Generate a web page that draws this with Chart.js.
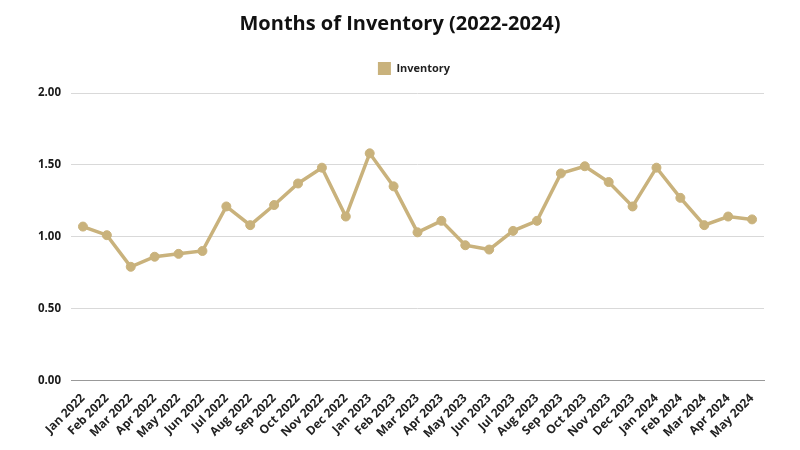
<!DOCTYPE html>
<html>
<head>
<meta charset="utf-8">
<script src="https://cdn.jsdelivr.net/npm/chart.js@4"></script>
<style>
  html, body { margin: 0; padding: 0; background: #fff; }
  .chart-box { width: 800px; height: 450px; }
</style>
</head>
<body>
<div class="chart-box"><canvas id="chart"></canvas></div>
<script>
// months on the x axis
var months = ["Jan 2022", "Feb 2022", "Mar 2022", "Apr 2022", "May 2022", "Jun 2022",
  "Jul 2022", "Aug 2022", "Sep 2022", "Oct 2022", "Nov 2022", "Dec 2022",
  "Jan 2023", "Feb 2023", "Mar 2023", "Apr 2023", "May 2023", "Jun 2023",
  "Jul 2023", "Aug 2023", "Sep 2023", "Oct 2023", "Nov 2023", "Dec 2023",
  "Jan 2024", "Feb 2024", "Mar 2024", "Apr 2024", "May 2024"];

// months of inventory
var inventory = [1.07, 1.01, 0.79, 0.86, 0.88, 0.90, 1.21, 1.08, 1.22, 1.37, 1.48, 1.14,
  1.58, 1.35, 1.03, 1.11, 0.94, 0.91, 1.04, 1.11, 1.44, 1.49, 1.38, 1.21,
  1.48, 1.27, 1.08, 1.14, 1.12];

var yTicks = [0, 0.5, 1, 1.5, 2];

var gold = "#c9b27c";

// extra room under the legend, and nudge title/legend to the right
var legendGap = {
  id: "legendGap",
  beforeInit: function (chart) {
    var fit = chart.legend.fit;
    chart.legend.fit = function () {
      fit.bind(chart.legend)();
      this.height += 8;
    };
  },
  afterLayout: function (chart) {
    chart.legend.left += 18;
    chart.legend.right += 18;
    chart.titleBlock.left += 4;
    chart.titleBlock.right += 4;
  }
};

var ctx = document.getElementById("chart").getContext("2d");
var chart = new Chart(ctx, {
  type: "line",
  data: {
    labels: months,
    datasets: [{
      label: "Inventory",
      data: inventory,
      borderColor: gold,
      backgroundColor: gold,
      borderWidth: 3.5,
      pointRadius: 4.5,
      pointBorderWidth: 1,
      pointHoverRadius: 4.5,
      tension: 0
    }]
  },
  options: {
    responsive: true,
    maintainAspectRatio: false,
    animation: false,
    layout: { padding: { left: 28, right: 36, top: 10, bottom: 6 } },
    plugins: {
      title: {
        display: true,
        text: "Months of Inventory (2022-2024)",
        color: "#111",
        font: { family: "Open Sans", size: 20, weight: "bold" },
        padding: { top: 2, bottom: 18 }
      },
      legend: {
        labels: {
          color: "#222",
          boxWidth: 13,
          boxHeight: 13,
          padding: 8,
          font: { family: "Open Sans", size: 11, weight: "bold" },
          generateLabels: function (c) {
            return [{
              text: "Inventory",
              fillStyle: gold,
              strokeStyle: gold,
              lineWidth: 0,
              fontColor: "#222",
              datasetIndex: 0
            }];
          }
        }
      },
      tooltip: { enabled: false }
    },
    scales: {
      x: {
        offset: true,
        grid: { display: false },
        border: { color: "#999" },
        ticks: {
          color: "#222",
          maxRotation: 45,
          minRotation: 45,
          autoSkip: false,
          font: { family: "Open Sans", size: 12, weight: "bold" }
        }
      },
      y: {
        min: 0,
        max: 2,
        afterBuildTicks: function (axis) {
          axis.ticks = yTicks.map(function (v) { return { value: v }; });
        },
        grid: { color: "#d9d9d9", drawTicks: false },
        border: { display: false },
        ticks: {
          color: "#1a1a1a",
          padding: 10,
          font: { family: "Open Sans", size: 11.5, weight: "bold" },
          callback: function (v) { return Number(v).toFixed(2); }
        }
      }
    }
  },
  plugins: [legendGap]
});
</script>
</body>
</html>
